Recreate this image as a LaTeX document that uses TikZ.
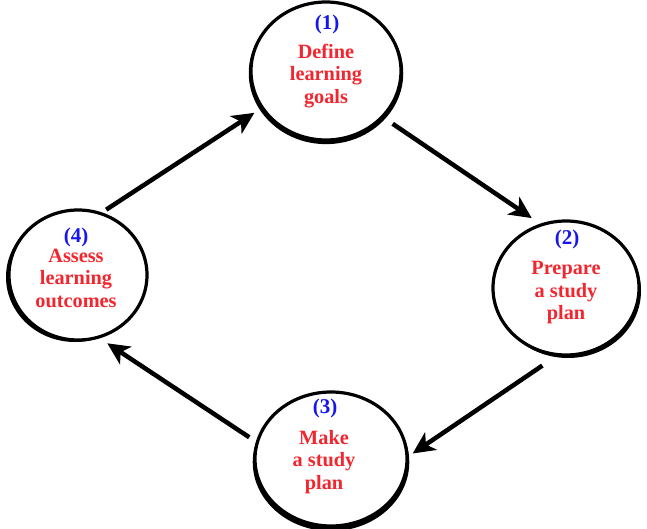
\documentclass[tikz,border=0pt]{standalone}
\usepackage{fontspec}
\setmainfont{Liberation Serif}
\usetikzlibrary{shapes.geometric,shadows,arrows.meta}
\definecolor{steptext}{RGB}{242,38,46}
\definecolor{stepnum}{RGB}{22,22,236}
\begin{document}
\begin{tikzpicture}[x=1pt,y=-1pt,
  stage/.style={ellipse,draw=black,line width=3.2pt,fill=white,inner sep=0pt},
  numlabel/.style={text=stepnum,font=\bfseries\fontsize{21}{23}\selectfont},
  steplabel/.style={text=steptext,align=center,font=\bfseries\fontsize{20.3}{22.5}\selectfont},
  flow/.style={line width=4.5pt,-{Stealth[length=22pt,width=21pt,inset=6pt]}}]
\useasboundingbox (0,0) rectangle (647,529);

% the four stages of the cycle
\node[stage,minimum width=150pt,minimum height=138pt,
  drop shadow={shadow xshift=0pt,shadow yshift=-2pt,shadow scale=1.03,fill=black,opacity=1}] (c1) at (326,71) {};
\node[stage,minimum width=146pt,minimum height=134pt,
  drop shadow={shadow xshift=2pt,shadow yshift=-3pt,fill=black,opacity=1}] (c2) at (566,288) {};
\node[stage,minimum width=152pt,minimum height=134pt,
  drop shadow={shadow xshift=0pt,shadow yshift=-3pt,shadow scale=1.03,fill=black,opacity=1}] (c3) at (331,459) {};
\node[stage,minimum width=138pt,minimum height=130pt,
  drop shadow={shadow xshift=-3pt,shadow yshift=-2pt,fill=black,opacity=1}] (c4) at (78,275) {};

% step numbers
\node[numlabel] (n1) at (327,24) {(1)};
\node[numlabel] (n2) at (567,239) {(2)};
\node[numlabel] (n3) at (325,408) {(3)};
\node[numlabel] (n4) at (76,237) {(4)};

% step texts
\node[steplabel] (t1) at (326,76) {Define\\learning\\goals};
\node[steplabel] (t2) at (566,293) {Prepare\\a study\\plan};
\node[steplabel] (t3) at (324,462) {Make\\a study\\plan};
\node[steplabel] (t4) at (76,278) {Assess\\learning\\outcomes};

% arrows running round the cycle
\draw[flow,shorten <=5pt,shorten >=8pt] (c4.69) -- (c1.210);
\draw[flow,shorten <=11pt,shorten >=10pt] (c1.-39) -- (c2.112);
\draw[flow,shorten <=17pt,shorten >=5pt] (c2.262) -- (c3.2);
\draw[flow,shorten <=8pt,shorten >=9pt] (c3.167) -- (c4.289);
\end{tikzpicture}
\end{document}
